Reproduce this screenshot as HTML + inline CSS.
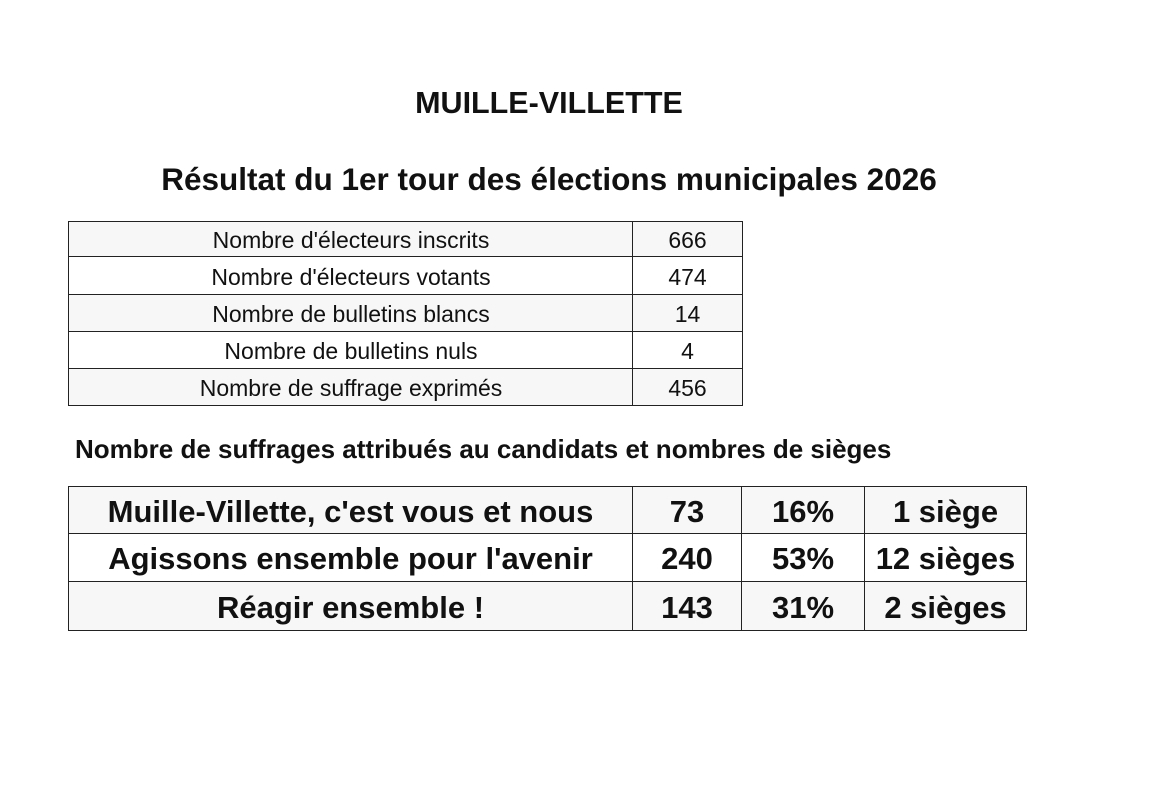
<!DOCTYPE html>
<html><head><meta charset="utf-8"><style>
body{margin:0;width:1170px;height:812px;background:#fff;position:relative;overflow:hidden;font-family:"Liberation Sans Narrow","Liberation Sans",sans-serif;color:#111}
.t{position:absolute;white-space:nowrap;font-weight:bold}
.c{position:absolute;box-sizing:border-box;border:1.5px solid #222;display:flex;align-items:center;justify-content:center;white-space:nowrap;background:#f7f7f7;padding-top:3px}
.s{font-size:23px}
.b{font-size:31px;font-weight:bold}
</style></head><body>
<div class="t" style="left:0;width:1098px;text-align:center;top:86px;font-size:30.5px">MUILLE-VILLETTE</div>
<div class="t" style="left:0;width:1098px;text-align:center;top:161px;font-size:31.5px">Résultat du 1er tour des élections municipales 2026</div>

<div class="c s" style="left:68px;top:221px;width:566px;height:36px">Nombre d'électeurs inscrits</div>
<div class="c s" style="left:632px;top:221px;width:111px;height:36px">666</div>
<div class="c s" style="left:68px;top:256px;width:566px;height:39px;background:#fff">Nombre d'électeurs votants</div>
<div class="c s" style="left:632px;top:256px;width:111px;height:39px;background:#fff">474</div>
<div class="c s" style="left:68px;top:294px;width:566px;height:38px">Nombre de bulletins blancs</div>
<div class="c s" style="left:632px;top:294px;width:111px;height:38px">14</div>
<div class="c s" style="left:68px;top:331px;width:566px;height:38px;background:#fff">Nombre de bulletins nuls</div>
<div class="c s" style="left:632px;top:331px;width:111px;height:38px;background:#fff">4</div>
<div class="c s" style="left:68px;top:368px;width:566px;height:38px">Nombre de suffrage exprimés</div>
<div class="c s" style="left:632px;top:368px;width:111px;height:38px">456</div>

<div class="t" style="left:75px;top:434px;font-size:26px">Nombre de suffrages attribués au candidats et nombres de sièges</div>

<div class="c b" style="left:68px;top:486px;width:565px;height:48px">Muille-Villette, c'est vous et nous</div>
<div class="c b" style="left:632px;top:486px;width:110px;height:48px">73</div>
<div class="c b" style="left:741px;top:486px;width:124px;height:48px">16%</div>
<div class="c b" style="left:864px;top:486px;width:163px;height:48px">1 siège</div>
<div class="c b" style="left:68px;top:533px;width:565px;height:49px;background:#fff">Agissons ensemble pour l'avenir</div>
<div class="c b" style="left:632px;top:533px;width:110px;height:49px;background:#fff">240</div>
<div class="c b" style="left:741px;top:533px;width:124px;height:49px;background:#fff">53%</div>
<div class="c b" style="left:864px;top:533px;width:163px;height:49px;background:#fff">12 sièges</div>
<div class="c b" style="left:68px;top:581px;width:565px;height:50px">Réagir ensemble !</div>
<div class="c b" style="left:632px;top:581px;width:110px;height:50px">143</div>
<div class="c b" style="left:741px;top:581px;width:124px;height:50px">31%</div>
<div class="c b" style="left:864px;top:581px;width:163px;height:50px">2 sièges</div>
</body></html>
